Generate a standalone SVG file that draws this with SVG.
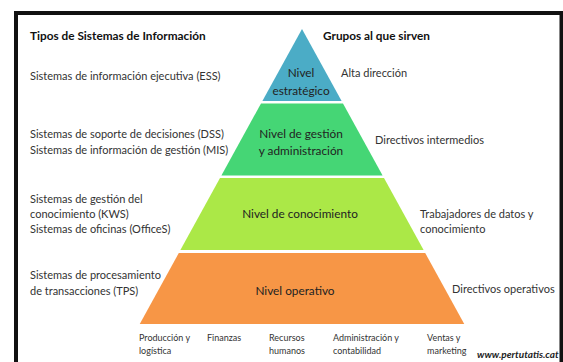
<svg xmlns="http://www.w3.org/2000/svg" width="563" height="362" viewBox="0 0 563 362">
<style>
text{font-family:Lato,"Liberation Sans",sans-serif;fill:#333}
.h{font-weight:bold;font-size:11.8px;fill:#111}
.l{font-size:11px}
.t{font-size:11.8px;fill:#222;text-anchor:middle}
.b{font-size:9px}
.w{font-size:10px;font-weight:bold;font-style:italic;fill:#222}
</style>
<rect width="563" height="362" fill="#fff"/>
<path d="M16,362 V13 H561.5 V362" fill="none" stroke="#111" stroke-width="4"/>
<g id="headers">
<text class="h" x="30" y="40">Tipos de Sistemas de Información</text>
<text class="h" x="323" y="40">Grupos al que sirven</text>
</g>
<g id="tier-estrategico">
<polygon points="302,29 341.6,101 262.4,101" fill="#4BACC6"/>
<text class="t" x="301" y="77">Nivel</text>
<text class="t" x="301" y="95">estratégico</text>
</g>
<g id="tier-gestion">
<polygon points="261,103.5 343,103.5 382.6,175.5 221.4,175.5" fill="#45D675"/>
<text class="t" x="301" y="138">Nivel de gestión</text>
<text class="t" x="301" y="155">y administración</text>
</g>
<g id="tier-conocimiento">
<polygon points="220,178 384,178 423.6,250 180.4,250" fill="#ABE847"/>
<text class="t" x="300" y="218">Nivel de conocimiento</text>
</g>
<g id="tier-operativo">
<polygon points="178.8,253 425.2,253 464.25,324 139.75,324" fill="#F79646"/>
<text class="t" x="295" y="295">Nivel operativo</text>
</g>
<g id="left-labels">
<text class="l" x="30" y="80">Sistemas de información ejecutiva (ESS)</text>
<text class="l" x="30" y="138">Sistemas de soporte de decisiones (DSS)</text>
<text class="l" x="30" y="154">Sistemas de información de gestión (MIS)</text>
<text class="l" x="30" y="203">Sistemas de gestión del</text>
<text class="l" x="30" y="218">conocimiento (KWS)</text>
<text class="l" x="30" y="233">Sistemas de oficinas (OfficeS)</text>
<text class="l" x="30" y="279">Sistemas de procesamiento</text>
<text class="l" x="30" y="295">de transacciones (TPS)</text>
</g>
<g id="right-labels">
<text class="l" x="341" y="77">Alta dirección</text>
<text class="l" x="375" y="144">Directivos intermedios</text>
<text class="l" x="420" y="218">Trabajadores de datos y</text>
<text class="l" x="420" y="233">conocimiento</text>
<text class="l" x="452" y="293">Directivos operativos</text>
</g>
<g id="bottom-labels">
<text class="b" x="139" y="341">Producción y</text>
<text class="b" x="139" y="354">logística</text>
<text class="b" x="207" y="341">Finanzas</text>
<text class="b" x="269" y="341">Recursos</text>
<text class="b" x="269" y="354">humanos</text>
<text class="b" x="333" y="341">Administración y</text>
<text class="b" x="333" y="354">contabilidad</text>
<text class="b" x="427" y="341">Ventas y</text>
<text class="b" x="427" y="354">marketing</text>
<text class="w" x="477" y="358">www.pertutatis.cat</text>
</g>
</svg>
